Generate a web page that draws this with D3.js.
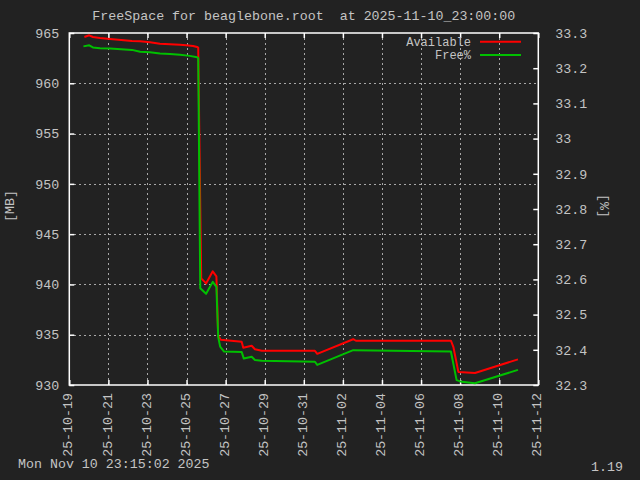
<!DOCTYPE html>
<html><head><meta charset="utf-8">
<script src="https://cdn.jsdelivr.net/npm/d3@7"></script>
<style>
html,body{margin:0;padding:0;background:#222222;}
svg{display:block;}
text{font-family:"Liberation Mono","DejaVu Sans Mono",monospace;font-size:13.3px;fill:#c4c4c4;white-space:pre;}
</style></head><body>
<script>
const title = "FreeSpace for beaglebone.root  at 2025-11-10_23:00:00";
const footerLeft = "Mon Nov 10 23:15:02 2025";
const footerRight = "1.19";
const seriesNames = ["Available", "Free%"];
const xTickLabels = ["2025-10-19","2025-10-21","2025-10-23","2025-10-25","2025-10-27","2025-10-29","2025-10-31","2025-11-02","2025-11-04","2025-11-06","2025-11-08","2025-11-10","2025-11-12"];
const yLeftTicks = [930,935,940,945,950,955,960,965];
const yRightTicks = [32.3,32.4,32.5,32.6,32.7,32.8,32.9,33.0,33.1,33.2,33.3];

const availTimes = ["2025-10-19T18:30","2025-10-20T00:30","2025-10-20T05:00","2025-10-20T13:40","2025-10-21T02:00","2025-10-21T15:40","2025-10-22T05:00","2025-10-22T15:00","2025-10-23T03:00","2025-10-23T15:20","2025-10-24T03:40","2025-10-24T16:00","2025-10-24T23:20","2025-10-25T08:00","2025-10-25T13:00","2025-10-25T14:20","2025-10-25T18:00","2025-10-26T00:00","2025-10-26T08:10","2025-10-26T12:40","2025-10-26T14:50","2025-10-26T18:00","2025-10-27T19:40","2025-10-27T21:40","2025-10-28T08:00","2025-10-28T12:00","2025-10-28T20:20","2025-10-31T13:40","2025-10-31T16:30","2025-11-02T12:40","2025-11-02T16:00","2025-11-07T12:40","2025-11-07T15:40","2025-11-07T21:50","2025-11-08T18:15","2025-11-10T23:00"];
const availValues = [964.60,964.77,964.60,964.50,964.40,964.30,964.20,964.17,964.08,963.94,963.88,963.84,963.78,963.71,963.61,963.55,940.6,940.1,941.3,940.8,934.9,934.5,934.3,933.7,933.9,933.55,933.4,933.4,933.1,934.55,934.4,934.4,933.8,931.3,931.2,932.55];

const freeTimes = ["2025-10-19T17:20","2025-10-20T00:30","2025-10-20T05:00","2025-10-20T13:40","2025-10-21T02:00","2025-10-21T15:40","2025-10-22T05:00","2025-10-22T15:00","2025-10-23T03:00","2025-10-23T15:20","2025-10-24T03:40","2025-10-24T16:00","2025-10-25T03:50","2025-10-25T13:00","2025-10-25T14:20","2025-10-25T16:50","2025-10-26T00:00","2025-10-26T08:10","2025-10-26T12:40","2025-10-26T14:50","2025-10-26T17:17","2025-10-26T22:05","2025-10-27T19:40","2025-10-27T22:20","2025-10-28T08:00","2025-10-28T12:00","2025-10-28T20:20","2025-10-31T13:40","2025-10-31T16:30","2025-11-02T12:40","2025-11-07T12:40","2025-11-07T19:40","2025-11-08T01:55","2025-11-08T18:15","2025-11-10T23:00"];
const freeValues = [33.262,33.265,33.259,33.257,33.256,33.254,33.252,33.247,33.245,33.242,33.240,33.238,33.235,33.231,33.229,32.575,32.559,32.593,32.579,32.437,32.409,32.395,32.394,32.375,32.380,32.371,32.369,32.366,32.357,32.399,32.395,32.314,32.309,32.305,32.343];

const W = 640, H = 480;
const L = 69.3, R = 538.3, T = 33, B = 385;
const parse = d3.utcParse("%Y-%m-%dT%H:%M");
const parseDay = d3.utcParse("%Y-%m-%d");
const xTicks = xTickLabels.map(parseDay);

const x = d3.scaleUtc().domain([xTicks[0], xTicks[xTicks.length-1]]).range([L, R]);
const yL = d3.scaleLinear().domain([930, 965]).range([B, T]);
const yR = d3.scaleLinear().domain([32.3, 33.3]).range([B, T]);

const svg = d3.select("body").append("svg").attr("width", W).attr("height", H);
svg.append("rect").attr("width", W).attr("height", H).attr("fill", "#222222");

// grid
const grid = svg.append("g").attr("stroke", "#a8a8a8").attr("stroke-width", 1).attr("stroke-dasharray", "2,3").attr("shape-rendering","crispEdges");
grid.selectAll("line.v").data(xTicks.slice(1, -1)).join("line")
  .attr("x1", d => Math.round(x(d)) + 0.5).attr("x2", d => Math.round(x(d)) + 0.5)
  .attr("y1", T).attr("y2", B);
grid.selectAll("line.h").data(yLeftTicks.slice(1, -1)).join("line")
  .attr("y1", d => Math.round(yL(d)) + 0.5).attr("y2", d => Math.round(yL(d)) + 0.5)
  .attr("x1", L).attr("x2", R);

// axes
const fmtX = d3.utcFormat("%y-%m-%d");
const axB = svg.append("g").attr("transform", `translate(0,${B})`)
  .call(d3.axisBottom(x).tickValues(xTicks).tickSizeInner(-5).tickSizeOuter(0).tickFormat(fmtX));
axB.selectAll("text").attr("transform", "rotate(-90)").attr("text-anchor", "end")
  .attr("x", -8).attr("y", 0).attr("dy", "0.2em");
const axT = svg.append("g").attr("transform", `translate(0,${T})`)
  .call(d3.axisTop(x).tickValues(xTicks).tickSizeInner(-5).tickSizeOuter(0).tickFormat(""));
const axL = svg.append("g").attr("transform", `translate(${L},0)`)
  .call(d3.axisLeft(yL).tickValues(yLeftTicks).tickSizeInner(-5).tickSizeOuter(0).tickPadding(10).tickFormat(d3.format("d")));
const axR = svg.append("g").attr("transform", `translate(${R},0)`)
  .call(d3.axisRight(yR).tickValues(yRightTicks).tickSizeInner(-5).tickSizeOuter(0).tickPadding(17).tickFormat(d3.format("~g")));
[axB, axT, axL, axR].forEach(a => {
  a.select(".domain").remove();
  a.selectAll("line").attr("stroke", "#ffffff").attr("stroke-width", 1.5);
  a.selectAll("text").attr("fill", "#c4c4c4").style("font-family", '"Liberation Mono", monospace').style("font-size", "13.3px");
});

// border
svg.append("rect").attr("x", L).attr("y", T).attr("width", R - L).attr("height", B - T)
  .attr("fill", "none").attr("stroke", "#ffffff").attr("stroke-width", 1.5);

// lines
const availData = availTimes.map((t, i) => ({t: parse(t), v: availValues[i]}));
const freeData = freeTimes.map((t, i) => ({t: parse(t), v: freeValues[i]}));
svg.append("path").datum(availData).attr("fill", "none").attr("stroke", "#ff0000").attr("stroke-width", 2)
  .attr("stroke-linejoin","round")
  .attr("d", d3.line().x(d => x(d.t)).y(d => yL(d.v)));
svg.append("path").datum(freeData).attr("fill", "none").attr("stroke", "#00c000").attr("stroke-width", 2)
  .attr("stroke-linejoin","round")
  .attr("d", d3.line().x(d => x(d.t)).y(d => yR(d.v)));

// legend
const legColors = ["#ff0000", "#00c000"];
const leg = svg.append("g");
seriesNames.forEach((n, i) => {
  const yy = 41.8 + i * 13.2;
  leg.append("text").attr("x", 471).attr("y", yy).attr("dy", "0.33em").attr("text-anchor", "end")
    .style("font-size", "12px").text(n);
  leg.append("line").attr("x1", 480).attr("x2", 521).attr("y1", yy).attr("y2", yy)
    .attr("stroke", legColors[i]).attr("stroke-width", 2);
});

// titles
svg.append("text").attr("x", (L + R) / 2).attr("y", 20).attr("text-anchor", "middle").text(title);
svg.append("text").attr("transform", "translate(14,206) rotate(-90)").attr("text-anchor", "middle").text("[MB]");
svg.append("text").attr("transform", "translate(600,206) rotate(90)").attr("text-anchor", "middle").text("[%]");
svg.append("text").attr("x", 18).attr("y", 468).text(footerLeft);
svg.append("text").attr("x", 623).attr("y", 471).attr("text-anchor", "end").text(footerRight);
</script>
</body></html>
